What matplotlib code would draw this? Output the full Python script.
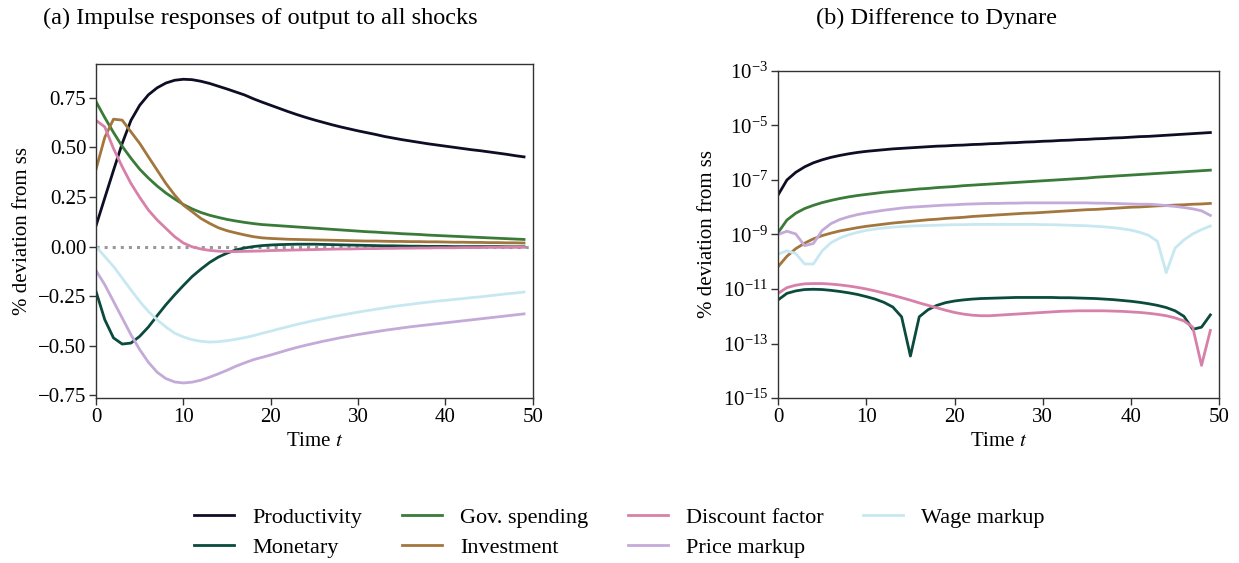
import numpy as np
import matplotlib
matplotlib.use("Agg")
import matplotlib.pyplot as plt
from matplotlib.ticker import NullLocator, FixedLocator

plt.rcParams['font.family'] = ['Liberation Serif', 'DejaVu Serif']
plt.rcParams['mathtext.fontset'] = 'stix'

labels = ['Productivity', 'Monetary', 'Gov. spending', 'Investment',
          'Discount factor', 'Price markup', 'Wage markup']
colors = ['#0e0d26', '#0a4b3d', '#3a7b3a', '#a3763d',
          '#d780a9', '#c4aad8', '#c8e8f1']

t = np.arange(50)

# (a) impulse responses, % deviation from ss
irf_productivity = [
    0.105, 0.245, 0.384, 0.52, 0.636, 0.712, 0.765, 0.80, 0.824, 0.838,
    0.843, 0.841, 0.833, 0.822, 0.808, 0.794, 0.779, 0.764, 0.745, 0.728,
    0.712, 0.696, 0.680, 0.665, 0.651, 0.638, 0.626, 0.614, 0.603, 0.593,
    0.583, 0.574, 0.565, 0.555, 0.547, 0.539, 0.532, 0.525, 0.518, 0.512,
    0.506, 0.500, 0.494, 0.488, 0.483, 0.477, 0.471, 0.465, 0.458, 0.452]
irf_monetary = [
    -0.226, -0.368, -0.46, -0.491, -0.486, -0.452, -0.405, -0.348, -0.293, -0.243,
    -0.196, -0.151, -0.114, -0.08, -0.053, -0.033, -0.017, -0.007, 0.0, 0.005,
    0.008, 0.010, 0.011, 0.012, 0.012, 0.012, 0.011, 0.010, 0.009, 0.008,
    0.007, 0.006, 0.005, 0.004, 0.004, 0.003, 0.002, 0.002, 0.001, 0.001,
    0.001, 0.0, 0.0, 0.0, 0.0, 0.0, 0.0, -0.001, -0.001, -0.001]
irf_gov = [
    0.730, 0.650, 0.575, 0.505, 0.445, 0.390, 0.345, 0.305, 0.270, 0.240,
    0.212, 0.190, 0.172, 0.158, 0.147, 0.137, 0.129, 0.122, 0.116, 0.111,
    0.108, 0.105, 0.102, 0.099, 0.096, 0.093, 0.090, 0.087, 0.084, 0.081,
    0.078, 0.075, 0.073, 0.070, 0.068, 0.065, 0.063, 0.061, 0.058, 0.056,
    0.054, 0.052, 0.050, 0.048, 0.046, 0.044, 0.042, 0.040, 0.038, 0.036]
irf_investment = [
    0.39, 0.55, 0.642, 0.637, 0.578, 0.52, 0.452, 0.385, 0.318, 0.26,
    0.209, 0.176, 0.142, 0.117, 0.095, 0.080, 0.069, 0.059, 0.050, 0.044,
    0.041, 0.039, 0.037, 0.036, 0.035, 0.034, 0.033, 0.032, 0.031, 0.030,
    0.029, 0.028, 0.028, 0.027, 0.026, 0.026, 0.025, 0.025, 0.024, 0.024,
    0.023, 0.022, 0.022, 0.021, 0.021, 0.020, 0.020, 0.019, 0.019, 0.018]
irf_discount = [
    0.636, 0.603, 0.494, 0.402, 0.318, 0.248, 0.184, 0.134, 0.092, 0.05,
    0.018, -0.001, -0.012, -0.019, -0.023, -0.025, -0.025, -0.024, -0.023, -0.022,
    -0.020, -0.019, -0.018, -0.017, -0.016, -0.015, -0.014, -0.013, -0.012, -0.012,
    -0.011, -0.010, -0.010, -0.009, -0.009, -0.008, -0.008, -0.007, -0.007, -0.006,
    -0.006, -0.006, -0.005, -0.005, -0.005, -0.004, -0.004, -0.004, -0.003, -0.003]
irf_price = [
    -0.121, -0.192, -0.276, -0.36, -0.444, -0.519, -0.583, -0.633, -0.665, -0.682,
    -0.687, -0.683, -0.673, -0.658, -0.641, -0.623, -0.603, -0.586, -0.570, -0.558,
    -0.546, -0.533, -0.520, -0.508, -0.497, -0.487, -0.477, -0.468, -0.459, -0.451,
    -0.443, -0.436, -0.429, -0.422, -0.416, -0.410, -0.404, -0.399, -0.394, -0.389,
    -0.384, -0.379, -0.374, -0.369, -0.364, -0.359, -0.354, -0.349, -0.344, -0.339]
irf_wage = [
    0.0, -0.05, -0.10, -0.159, -0.218, -0.276, -0.327, -0.369, -0.405, -0.436,
    -0.455, -0.469, -0.477, -0.481, -0.479, -0.474, -0.467, -0.459, -0.449, -0.437,
    -0.426, -0.414, -0.403, -0.392, -0.382, -0.372, -0.363, -0.354, -0.346, -0.338,
    -0.330, -0.323, -0.316, -0.309, -0.302, -0.296, -0.291, -0.285, -0.280, -0.275,
    -0.271, -0.266, -0.262, -0.257, -0.253, -0.248, -0.243, -0.238, -0.234, -0.229]

# (b) absolute difference to Dynare, stored as log10 of the value
diff_productivity_log10 = [
    -7.55, -7.00, -6.72, -6.52, -6.37, -6.26, -6.17, -6.10, -6.04, -5.99,
    -5.95, -5.92, -5.89, -5.86, -5.84, -5.82, -5.80, -5.78, -5.76, -5.75,
    -5.73, -5.72, -5.70, -5.69, -5.67, -5.66, -5.64, -5.63, -5.61, -5.60,
    -5.58, -5.57, -5.55, -5.54, -5.52, -5.51, -5.49, -5.48, -5.46, -5.45,
    -5.43, -5.41, -5.40, -5.38, -5.36, -5.34, -5.32, -5.30, -5.28, -5.26]
diff_monetary_log10 = [
    -11.40, -11.16, -11.07, -11.02, -11.01, -11.02, -11.05, -11.09, -11.14, -11.20,
    -11.28, -11.37, -11.49, -11.66, -12.02, -13.46, -12.02, -11.76, -11.60, -11.50,
    -11.44, -11.40, -11.37, -11.35, -11.34, -11.33, -11.32, -11.31, -11.31, -11.31,
    -11.31, -11.31, -11.32, -11.32, -11.33, -11.34, -11.35, -11.37, -11.39, -11.42,
    -11.45, -11.49, -11.54, -11.60, -11.68, -11.80, -12.00, -12.48, -12.40, -11.95]
diff_gov_log10 = [
    -8.93, -8.47, -8.22, -8.05, -7.93, -7.83, -7.75, -7.68, -7.62, -7.57,
    -7.53, -7.49, -7.45, -7.42, -7.39, -7.36, -7.33, -7.31, -7.28, -7.26,
    -7.24, -7.21, -7.19, -7.17, -7.15, -7.13, -7.11, -7.09, -7.07, -7.05,
    -7.03, -7.01, -6.99, -6.97, -6.95, -6.93, -6.90, -6.88, -6.86, -6.84,
    -6.82, -6.80, -6.78, -6.76, -6.74, -6.72, -6.70, -6.68, -6.66, -6.64]
diff_investment_log10 = [
    -10.18, -9.80, -9.52, -9.32, -9.16, -9.04, -8.95, -8.87, -8.81, -8.75,
    -8.70, -8.66, -8.62, -8.58, -8.55, -8.52, -8.49, -8.46, -8.44, -8.41,
    -8.39, -8.37, -8.34, -8.32, -8.30, -8.28, -8.26, -8.24, -8.22, -8.21,
    -8.19, -8.17, -8.15, -8.13, -8.11, -8.09, -8.08, -8.06, -8.04, -8.02,
    -8.00, -7.99, -7.97, -7.95, -7.94, -7.92, -7.91, -7.89, -7.88, -7.86]
diff_discount_log10 = [
    -11.16, -10.95, -10.86, -10.81, -10.80, -10.80, -10.82, -10.85, -10.89, -10.94,
    -11.00, -11.07, -11.15, -11.23, -11.32, -11.41, -11.51, -11.60, -11.69, -11.78,
    -11.86, -11.92, -11.96, -11.98, -11.98, -11.96, -11.94, -11.92, -11.90, -11.88,
    -11.86, -11.84, -11.82, -11.81, -11.80, -11.80, -11.80, -11.80, -11.81, -11.82,
    -11.84, -11.86, -11.89, -11.93, -11.98, -12.06, -12.17, -12.40, -13.80, -12.52]
diff_price_log10 = [
    -9.00, -8.88, -8.98, -9.41, -9.33, -8.85, -8.60, -8.45, -8.35, -8.27,
    -8.21, -8.16, -8.11, -8.07, -8.03, -8.00, -7.98, -7.96, -7.94, -7.92,
    -7.91, -7.89, -7.88, -7.87, -7.86, -7.86, -7.85, -7.85, -7.84, -7.84,
    -7.84, -7.84, -7.84, -7.84, -7.84, -7.84, -7.85, -7.85, -7.86, -7.87,
    -7.88, -7.89, -7.89, -7.91, -7.94, -7.97, -8.01, -8.06, -8.13, -8.30]
diff_wage_log10 = [
    -9.72, -9.60, -9.70, -10.08, -10.08, -9.60, -9.30, -9.13, -9.01, -8.92,
    -8.85, -8.80, -8.76, -8.73, -8.71, -8.69, -8.68, -8.67, -8.66, -8.65,
    -8.64, -8.64, -8.63, -8.63, -8.63, -8.63, -8.63, -8.63, -8.63, -8.63,
    -8.64, -8.64, -8.65, -8.66, -8.67, -8.68, -8.70, -8.72, -8.75, -8.79,
    -8.84, -8.92, -9.03, -9.25, -10.40, -9.50, -9.20, -8.98, -8.82, -8.69]

irfs = [irf_productivity, irf_monetary, irf_gov, irf_investment,
        irf_discount, irf_price, irf_wage]
diffs = [diff_productivity_log10, diff_monetary_log10, diff_gov_log10,
         diff_investment_log10, diff_discount_log10, diff_price_log10,
         diff_wage_log10]

fs = 15
fig = plt.figure(figsize=(12.39, 5.63), dpi=100)
ax1 = fig.add_axes([0.0775, 0.293, 0.3525, 0.593])
ax2 = fig.add_axes([0.628, 0.293, 0.356, 0.581])

lw = 2.0
for y, c, lab in zip(irfs, colors, labels):
    ax1.plot(t, y, color=c, lw=lw, label=lab)
ax1.axhline(0, color='#999999', ls=':', lw=2.2, zorder=0.5)
ax1.set_xlim(0, 50)
ax1.set_ylim(-0.763, 0.919)
ax1.set_yticks([-0.75, -0.5, -0.25, 0.0, 0.25, 0.5, 0.75])
ax1.set_yticklabels(['\u22120.75', '\u22120.50', '\u22120.25', '0.00',
                     '0.25', '0.50', '0.75'])

for y, c in zip(diffs, colors):
    ax2.plot(t, 10.0 ** np.array(y), color=c, lw=lw)
ax2.set_yscale('log')
ax2.set_xlim(0, 50)
ax2.set_ylim(1e-15, 1e-3)
ax2.yaxis.set_major_locator(FixedLocator([1e-15, 1e-13, 1e-11, 1e-9, 1e-7, 1e-5, 1e-3]))
ax2.yaxis.set_minor_locator(NullLocator())

for ax in (ax1, ax2):
    ax.set_xticks([0, 10, 20, 30, 40, 50])
    ax.set_xlabel('Time $t$', fontsize=fs, labelpad=4)
    ax.set_ylabel('% deviation from ss', fontsize=fs, labelpad=4)
    ax.tick_params(labelsize=fs, length=5, width=1, color='#333333', pad=2)
    for s in ax.spines.values():
        s.set_color('#333333')
        s.set_linewidth(1.0)

fig.text(0.21, 0.967, '(a) Impulse responses of output to all shocks',
         ha='center', va='center', fontsize=17.5)
fig.text(0.756, 0.967, '(b) Difference to Dynare',
         ha='center', va='center', fontsize=17.5)

handles, labs = ax1.get_legend_handles_labels()
fig.legend(handles, labs, ncol=4, loc='center', bbox_to_anchor=(0.5, 0.054),
           frameon=False, fontsize=16, handlelength=1.8, handletextpad=0.8,
           columnspacing=1.8, labelspacing=0.4)

fig.savefig('out.png', dpi=100)
